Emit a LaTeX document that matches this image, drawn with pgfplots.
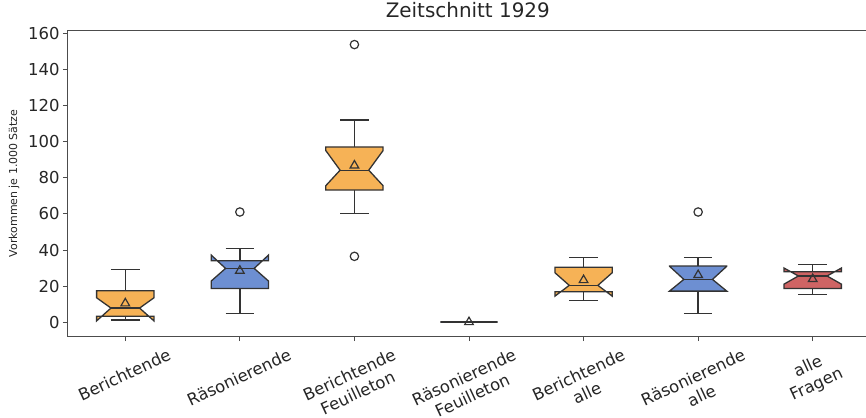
\documentclass[border=0pt]{standalone}
\usepackage{fontspec}
\setmainfont{DejaVu Sans}
\usepackage{graphicx}
\usepackage{pgfplots}
\pgfplotsset{compat=1.18}

\definecolor{boxorange}{HTML}{F6B256}
\definecolor{boxblue}{HTML}{6D8FD2}
\definecolor{boxred}{HTML}{CF6464}
\definecolor{edge}{HTML}{333333}

% notched box: x, whisker low, q1, notch low, median, notch high, q3, whisker high, colour
\newcommand{\nbox}[9]{%
  \pgfmathsetmacro\xa{#1-0.25}\pgfmathsetmacro\xb{#1+0.25}%
  \pgfmathsetmacro\xc{#1-0.125}\pgfmathsetmacro\xd{#1+0.125}%
  \edef\tmp{%
    \noexpand\addplot[draw=edge, line width=1.3bp] coordinates {(#1,#3) (#1,#2)};
    \noexpand\addplot[draw=edge, line width=1.3bp] coordinates {(\xc,#2) (\xd,#2)};
    \noexpand\addplot[draw=edge, line width=1.3bp] coordinates {(#1,#7) (#1,#8)};
    \noexpand\addplot[draw=edge, line width=1.3bp] coordinates {(\xc,#8) (\xd,#8)};
    \noexpand\addplot[draw=edge, fill=#9, line width=1.3bp] coordinates {(\xa,#3) (\xa,#4) (\xc,#5) (\xa,#6) (\xa,#7) (\xb,#7) (\xb,#6) (\xd,#5) (\xb,#4) (\xb,#3)} -- cycle;
    \noexpand\addplot[draw=edge, line width=1.3bp] coordinates {(\xc,#5) (\xd,#5)};
  }\tmp}

\newcommand{\rl}[1]{\rotatebox{25}{\begin{tabular}{@{}c@{}}#1\end{tabular}}}

\begin{document}
\begin{tikzpicture}
\begin{axis}[
  scale only axis,
  width=802bp, height=305.3bp,
  xmin=0.5, xmax=7.5, ymin=-7.7, ymax=161.7,
  xtick={1,...,7}, ytick={0,20,...,160},
  xticklabels={
    \rl{Berichtende},
    \rl{Räsonierende},
    \rl{Berichtende\\Feuilleton},
    \rl{Räsonierende\\Feuilleton},
    \rl{Berichtende\\alle},
    \rl{Räsonierende\\alle},
    \rl{alle\\Fragen}},
  xtick pos=bottom, ytick pos=left,
  tick align=outside, major tick length=5bp,
  axis line style={black!70, line width=1bp},
  tick style={black!70, line width=1bp},
  /pgf/number format/assume math mode=true,
  tick label style={font=\fontsize{16.5}{20}\selectfont, text=black!85},
  xticklabel style={anchor=north, yshift=-2bp},
  title={Zeitschnitt 1929},
  title style={font=\fontsize{20}{24}\selectfont, text=black!85, at={(0.4985,1)}, anchor=base, yshift=7bp},
  ylabel={Vorkommen je 1.000 Sätze},
  ylabel style={font=\fontsize{11}{13}\selectfont, text=black!85, at={(axis description cs:-0.0673,0.5)}, anchor=center},
]
\coordinate (o) at (rel axis cs:0,0);

\nbox{1}{1.1}{3.3}{0.7}{7.8}{13.5}{17.4}{29.3}{boxorange}
\nbox{2}{4.8}{18.7}{22.8}{29.8}{37.2}{34.1}{40.9}{boxblue}
\nbox{3}{60.4}{73.3}{75.7}{84.3}{95.2}{97.2}{112.2}{boxorange}
\nbox{4}{0}{0}{0}{0}{0}{0}{0}{boxblue}
\nbox{5}{12.0}{16.9}{14.4}{20.4}{27.4}{30.4}{35.9}{boxorange}
\nbox{6}{4.6}{17.2}{17.2}{23.7}{31.0}{31.1}{35.9}{boxblue}
\nbox{7}{15.2}{18.7}{21.1}{25.6}{30.0}{28.0}{32.0}{boxred}

\addplot[only marks, mark=o, mark size=4.2bp, mark options={draw=edge, line width=1.2bp}]
  coordinates {(2,61.1) (3,154) (3,36.5) (6,61.1)};
\addplot[only marks, mark=triangle, mark size=5bp, mark options={draw=edge, fill=none, line width=1.2bp}]
  coordinates {(1,10.4) (2,28.5) (3,86.9) (4,0) (5,23.3) (6,26.1) (7,23.9)};
\end{axis}
\pgfresetboundingbox
\path[use as bounding box] (o) ++(-68bp,-82bp) rectangle ++(866bp,418bp);
\end{tikzpicture}
\end{document}
